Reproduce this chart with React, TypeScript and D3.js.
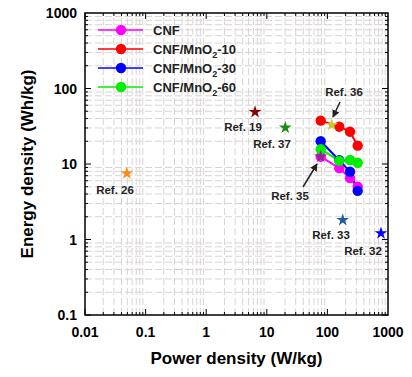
import React from "react";
import * as d3 from "d3";

const W = 412, H = 377;
const M = { left: 85, right: 24, top: 13, bottom: 62 };

const powerCNF = [77.5, 157, 236, 316];
const energyCNF = [12.5, 8.8, 6.5, 5.0];
const powerMn10 = [77.5, 157, 236, 316];
const energyMn10 = [37.5, 31.2, 26.8, 17.5];
const powerMn30 = [77.5, 157, 236, 316];
const energyMn30 = [20, 11.2, 7.9, 4.4];
const powerMn60 = [77.5, 157, 236, 316];
const energyMn60 = [15.7, 11.0, 11.3, 10.4];

const seriesNames = ["CNF", "CNF/MnO2-10", "CNF/MnO2-30", "CNF/MnO2-60"];
const seriesColors = ["#ff00ff", "#ff0000", "#0000ff", "#00ee00"];

const refNames = ["Ref. 26", "Ref. 19", "Ref. 37", "Ref. 36", "Ref. 35", "Ref. 33", "Ref. 32"];
const refPower = [0.049, 6.4, 20.2, 118, 77.5, 179, 766];
const refEnergy = [7.5, 48.8, 30.3, 32.9, 12.5, 1.81, 1.21];
const refColors = ["#ff8c1a", "#8b0000", "#1a8c1a", "#c8c832", "#8b2a8b", "#1f5fa0", "#0000ff"];

const xTicks = [0.01, 0.1, 1, 10, 100, 1000];
const xTickLabels = ["0.01", "0.1", "1", "10", "100", "1000"];
const yTicks = [0.1, 1, 10, 100, 1000];
const yTickLabels = ["0.1", "1", "10", "100", "1000"];

export default function App() {
  const iw = W - M.left - M.right;
  const ih = H - M.top - M.bottom;
  const x = d3.scaleLog().domain([0.01, 1000]).range([M.left, M.left + iw]);
  const y = d3.scaleLog().domain([0.1, 1000]).range([M.top + ih, M.top]);
  const font = "'Liberation Sans', Arial, sans-serif";

  const xMinor: number[] = [];
  for (let e = -2; e < 3; e++) for (let k = 1; k <= 9; k++) xMinor.push(k * Math.pow(10, e));
  const yMinor: number[] = [];
  for (let e = -1; e < 3; e++) for (let k = 1; k <= 9; k++) yMinor.push(k * Math.pow(10, e));

  const series = [
    { p: powerCNF, e: energyCNF },
    { p: powerMn10, e: energyMn10 },
    { p: powerMn30, e: energyMn30 },
    { p: powerMn60, e: energyMn60 },
  ];
  const line = d3.line<[number, number]>().x(d => x(d[0])).y(d => y(d[1]));
  const star = d3.symbol().type(d3.symbolStar).size(50)() as string;

  const labelPos: [number, number][] = [
    [115, 194], [243, 131], [272, 148], [344, 96], [290, 200], [331, 239], [363, 255],
  ];

  const x0 = M.left, x1 = M.left + iw, y0 = M.top + ih, y1 = M.top;

  return (
    <svg width={W} height={H} style={{ position: "absolute", left: 0, top: 0, background: "#fff" }}>
      <defs>
        <marker id="ah" viewBox="0 0 10 10" refX="9" refY="5" markerWidth="5" markerHeight="5" orient="auto">
          <path d="M0,0 L10,5 L0,10 z" fill="#222" />
        </marker>
      </defs>
      <g stroke="#d9d4d4" strokeWidth={1} strokeDasharray="7,3">
        {xMinor.map((v, i) => (i % 9 === 0 ? null : <line key={"gx" + i} x1={x(v)} x2={x(v)} y1={y0} y2={y1} />))}
        {yMinor.map((v, i) => (i % 9 === 0 ? null : <line key={"gy" + i} y1={y(v)} y2={y(v)} x1={x0} x2={x1} />))}
      </g>
      <g stroke="#000" strokeWidth={1}>
        {xMinor.map((v, i) => (
          <g key={"tx" + i}>
            <line x1={x(v)} x2={x(v)} y1={y0} y2={y0 - (i % 9 === 0 ? 6 : 3)} />
            <line x1={x(v)} x2={x(v)} y1={y1} y2={y1 + (i % 9 === 0 ? 6 : 3)} />
          </g>
        ))}
        {yMinor.map((v, i) => (
          <g key={"ty" + i}>
            <line y1={y(v)} y2={y(v)} x1={x0} x2={x0 + (i % 9 === 0 ? 6 : 3)} />
            <line y1={y(v)} y2={y(v)} x1={x1} x2={x1 - (i % 9 === 0 ? 6 : 3)} />
          </g>
        ))}
      </g>
      <rect x={x0} y={y1} width={iw} height={ih} fill="none" stroke="#000" strokeWidth={1.5} />
      <g fontFamily={font} fontWeight="bold" fontSize={14} fill="#000">
        {xTicks.map((v, i) => (
          <text key={"xl" + i} x={x(v)} y={y0 + 22} textAnchor="middle">{xTickLabels[i]}</text>
        ))}
        {yTicks.map((v, i) => (
          <text key={"yl" + i} x={x0 - 8} y={y(v) + 5} textAnchor="end">{yTickLabels[i]}</text>
        ))}
      </g>
      <text x={M.left + iw / 2} y={364} textAnchor="middle" fontFamily={font} fontWeight="bold" fontSize={17}>Power density (W/kg)</text>
      <text transform={`translate(33,${M.top + ih / 2}) rotate(-90)`} textAnchor="middle" fontFamily={font} fontWeight="bold" fontSize={17}>Energy density (Wh/kg)</text>
      {series.map((s, si) => (
        <path key={"l" + si} d={line(s.p.map((p, i) => [p, s.e[i]] as [number, number])) || ""} fill="none" stroke={seriesColors[si]} strokeWidth={2} />
      ))}
      {series.map((s, si) =>
        s.p.map((p, i) => <circle key={"c" + si + i} cx={x(p)} cy={y(s.e[i])} r={5.2} fill={seriesColors[si]} />)
      )}
      {refPower.map((p, i) => (
        <path key={"s" + i} d={star} transform={`translate(${x(p)},${y(refEnergy[i])})`} fill={refColors[i]} />
      ))}
      <g fontFamily={font} fontWeight="bold" fontSize={11.5} fill="#222">
        {refNames.map((n, i) => (
          <text key={"rn" + i} x={labelPos[i][0]} y={labelPos[i][1]} textAnchor="middle">{n}</text>
        ))}
      </g>
      <line x1={340} y1={102} x2={333} y2={117} stroke="#222" strokeWidth={1.5} markerEnd="url(#ah)" />
      <line x1={303} y1={187} x2={317} y2={164} stroke="#222" strokeWidth={1.5} markerEnd="url(#ah)" />
      {seriesNames.map((n, i) => {
        const ly = 30 + i * 19;
        return (
          <g key={"lg" + i}>
            <line x1={98} x2={143} y1={ly} y2={ly} stroke={seriesColors[i]} strokeWidth={1.5} />
            <circle cx={121} cy={ly} r={5.2} fill={seriesColors[i]} />
            <text x={153} y={ly + 5} fontFamily={font} fontWeight="bold" fontSize={13} fill="#222">
              {n.startsWith("CNF/MnO2") ? (
                <>
                  CNF/MnO<tspan fontSize={9} dy={4}>2</tspan><tspan dy={-4}>{n.slice(8)}</tspan>
                </>
              ) : n}
            </text>
          </g>
        );
      })}
    </svg>
  );
}
